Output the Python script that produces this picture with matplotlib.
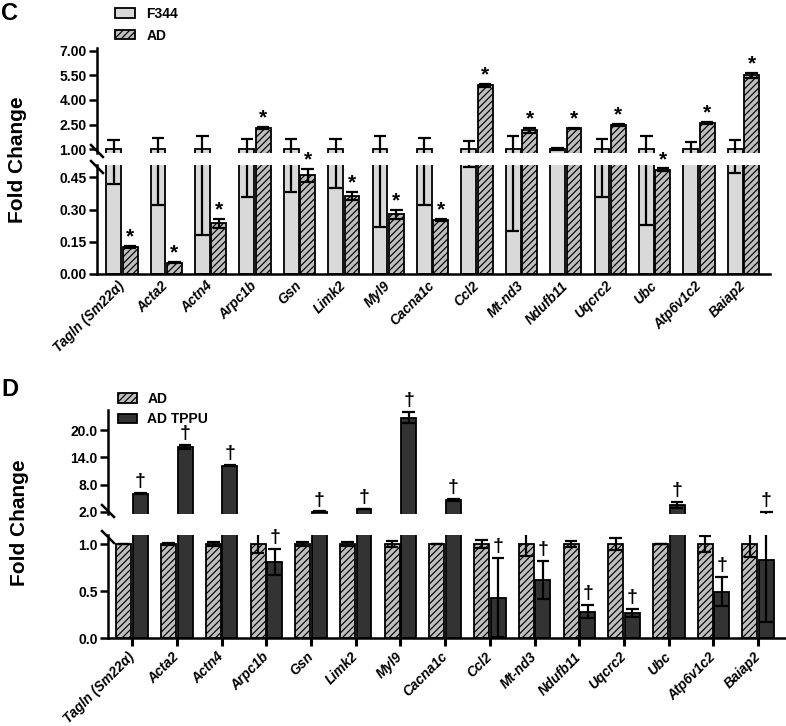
import numpy as np
import matplotlib
matplotlib.use("Agg")
import matplotlib.pyplot as plt
from matplotlib.patches import Patch
from matplotlib.lines import Line2D

plt.rcParams['font.family'] = ['Liberation Sans', 'DejaVu Sans']
plt.rcParams['font.weight'] = 'bold'
plt.rcParams['hatch.linewidth'] = 0.85

genes = ['Tagln (Sm22α)', 'Acta2', 'Actn4', 'Arpc1b', 'Gsn', 'Limk2', 'Myl9', 'Cacna1c',
         'Ccl2', 'Mt-nd3', 'Ndufb11', 'Uqcrc2', 'Ubc', 'Atp6v1c2', 'Baiap2']

# panel C: F344 vs AD
c_f344 = [1.0] * 15
c_f344_err = [0.58, 0.68, 0.82, 0.64, 0.62, 0.60, 0.78, 0.68, 0.50, 0.80, 0.08, 0.64, 0.77, 0.42, 0.53]
c_ad = [0.126, 0.053, 0.236, 2.28, 0.46, 0.364, 0.278, 0.253, 4.89, 2.16, 2.26, 2.46, 0.487, 2.60, 5.50]
c_ad_err = [0.005, 0.003, 0.02, 0.05, 0.03, 0.02, 0.02, 0.005, 0.08, 0.15, 0.05, 0.05, 0.005, 0.08, 0.15]

# panel D: AD vs AD TPPU
d_ad = [1.0] * 15
d_ad_err = [0.005, 0.01, 0.02, 0.10, 0.02, 0.02, 0.03, 0.005, 0.04, 0.13, 0.03, 0.06, 0.005, 0.09, 0.14]
d_tppu = [6.0, 16.3, 12.2, 0.81, 2.07, 2.66, 22.7, 4.7, 0.43, 0.62, 0.28, 0.27, 3.54, 0.49, 0.83]
d_tppu_lo = [0.1, 0.4, 0.2, 0.14, 0.05, 0.05, 1.1, 0.2, 0.42, 0.21, 0.07, 0.05, 0.6, 0.15, 0.66]
d_tppu_hi = [0.1, 0.4, 0.2, 0.14, 0.05, 0.05, 1.3, 0.2, 0.42, 0.20, 0.07, 0.04, 0.66, 0.16, 1.2]

W, H = 786, 726
LIGHT = '#d9d9d9'
HATCHED = '#bfbfbf'
DARK = '#333333'
BW = 0.335
OFF = 0.185
CAP = 0.14  # half cap width, in group units

fig = plt.figure(figsize=(W / 100, H / 100), dpi=100)


def add_ax(left, top, right, bottom):
    return fig.add_axes([left / W, 1 - bottom / H, (right - left) / W, (bottom - top) / H])


def style_axes(ax_hi, ax_lo, xlim, hi_lim, lo_lim, hi_ticks, lo_ticks, fmt, xticks_len):
    for ax in (ax_hi, ax_lo):
        ax.set_xlim(*xlim)
        ax.spines['right'].set_visible(False)
        ax.spines['top'].set_visible(False)
        ax.spines['left'].set_linewidth(1.8)
        ax.spines['bottom'].set_linewidth(1.8)
        ax.tick_params(axis='y', length=6, width=1.8, pad=1.5, labelsize=10)
        ax.patch.set_alpha(0)
    ax_hi.spines['bottom'].set_visible(False)
    ax_hi.tick_params(axis='x', bottom=False, labelbottom=False)
    ax_hi.set_ylim(*hi_lim)
    ax_lo.set_ylim(*lo_lim)
    ax_hi.set_yticks(hi_ticks)
    ax_hi.set_yticklabels([fmt % t for t in hi_ticks])
    ax_lo.set_yticks(lo_ticks)
    ax_lo.set_yticklabels([fmt % t for t in lo_ticks])
    x = np.arange(len(genes))
    ax_lo.set_xticks(x)
    ax_lo.set_xticklabels(genes, rotation=45, ha='right', va='center', rotation_mode='anchor',
                          fontsize=9.8, style='italic')
    ax_lo.tick_params(axis='x', length=xticks_len, width=2.2, pad=6 if xticks_len else 7)


def draw_series(ax_hi, ax_lo, xs, vals, lo, hi, color, hatch, mark=None, mark_off=8, mark_size=15):
    vals, lo, hi = np.asarray(vals), np.asarray(lo), np.asarray(hi)
    top, bot = vals + hi, vals - lo
    for ax in (ax_hi, ax_lo):
        y0, y1 = ax.get_ylim()
        keep = vals > y0
        ax.bar(xs[keep], vals[keep], BW, color=color, edgecolor='black', linewidth=1.3,
               hatch=hatch, zorder=2)
        # error arms, drawn only where they reach into this segment
        up = (top > y0) & (vals < y1)
        ax.vlines(xs[up], np.maximum(vals[up], y0), np.minimum(top[up], y1),
                  color='black', linewidth=1.6, zorder=3)
        cu = (top > y0) & (top < y1)
        ax.hlines(top[cu], xs[cu] - CAP, xs[cu] + CAP, color='black', linewidth=1.6, zorder=3)
        dn = (vals > y0) & (bot < y1)
        ax.vlines(xs[dn], np.maximum(bot[dn], y0), np.minimum(vals[dn], y1),
                  color='black', linewidth=1.6, zorder=3)
        cd = (bot > y0) & (bot < y1) & (vals > y0)
        ax.hlines(bot[cd], xs[cd] - CAP, xs[cd] + CAP, color='black', linewidth=1.6, zorder=3)
    if mark:
        top_lo = ax_lo.get_ylim()[1]
        for xi, t in zip(xs, top):
            ax = ax_hi if t > top_lo else ax_lo
            ax.annotate(mark, xy=(xi, t), xytext=(0, mark_off), textcoords='offset points',
                        ha='center', va='baseline', fontsize=mark_size, fontweight='bold')


def break_marks(spine_x, y_hi_bottom, y_lo_top):
    for y in (y_hi_bottom, y_lo_top):
        fig.add_artist(Line2D([(spine_x - 6) / W, (spine_x + 6) / W],
                              [1 - (y - 6) / H, 1 - (y + 6) / H],
                              color='black', linewidth=1.8, transform=fig.transFigure))


x = np.arange(len(genes))

# ---- panel C ----
c_hi = add_ax(97, 48, 770, 153.3)
c_lo = add_ax(97, 165, 770, 274)
style_axes(c_hi, c_lo, (-0.56, 14.6), (0.74, 7.18), (0, 0.508),
           [1.0, 2.5, 4.0, 5.5, 7.0], [0.0, 0.15, 0.30, 0.45], '%.2f', 0)
draw_series(c_hi, c_lo, x - OFF, c_f344, c_f344_err, c_f344_err, LIGHT, None)
draw_series(c_hi, c_lo, x + OFF, c_ad, c_ad_err, c_ad_err, HATCHED, '/////', mark='*', mark_off=2.5)
break_marks(97, 151, 167)

fig.legend(handles=[Patch(facecolor=LIGHT, edgecolor='black', linewidth=1.3),
                    Patch(facecolor=HATCHED, edgecolor='black', linewidth=1.3, hatch='/////')],
           labels=['F344', 'AD'], loc='upper left', bbox_to_anchor=(115 / W, 1 - 7 / H),
           frameon=False, fontsize=10, handlelength=1.45, handleheight=0.65,
           handletextpad=0.8, labelspacing=0.55, borderpad=0, borderaxespad=0)

# ---- panel D ----
d_hi = add_ax(108, 410, 785, 513.5)
d_lo = add_ax(108, 535, 785, 638)
style_axes(d_hi, d_lo, (-0.54, 14.6), (1.67, 24.4), (0, 1.096),
           [2.0, 8.0, 14.0, 20.0], [0.0, 0.5, 1.0], '%.1f', 6)
draw_series(d_hi, d_lo, x - OFF, d_ad, d_ad_err, d_ad_err, HATCHED, '/////')
draw_series(d_hi, d_lo, x + OFF, d_tppu, d_tppu_lo, d_tppu_hi, DARK, None, mark='†',
            mark_off=5, mark_size=14)
break_marks(108, 511, 537)

fig.legend(handles=[Patch(facecolor=HATCHED, edgecolor='black', linewidth=1.3, hatch='/////'),
                    Patch(facecolor=DARK, edgecolor='black', linewidth=1.3)],
           labels=['AD', 'AD TPPU'], loc='upper left', bbox_to_anchor=(118 / W, 1 - 392 / H),
           frameon=False, fontsize=10, handlelength=1.35, handleheight=0.65,
           handletextpad=0.75, labelspacing=0.45, borderpad=0, borderaxespad=0)

# panel letters and axis titles
fig.text(1 / W, 1 - 14 / H, 'C', fontsize=17, fontweight='bold', va='center', ha='left')
fig.text(1 / W, 1 - 390 / H, 'D', fontsize=17, fontweight='bold', va='center', ha='left')
fig.text(18 / W, 1 - 160 / H, 'Fold Change', rotation=90, fontsize=15, fontweight='bold',
         va='center', ha='center')
fig.text(20 / W, 1 - 523 / H, 'Fold Change', rotation=90, fontsize=15, fontweight='bold',
         va='center', ha='center')

fig.savefig('out.png', dpi=100)
